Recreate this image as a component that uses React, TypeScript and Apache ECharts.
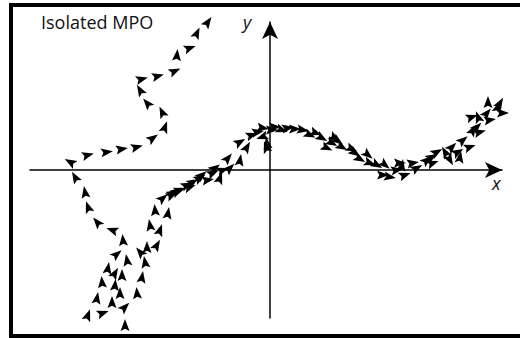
import React, { useEffect, useRef } from "react";
import * as echarts from "echarts";

// [x, y, heading in degrees (counter-clockwise from +x)]
const isolatedPath: number[][] = [
  [-14.7, -7.0, 95], [-15.8, -6.0, 160], [-17.3, -5.2, 130], [-18.2, -3.7, 110],
  [-18.5, -2.2, 100], [-19.5, -0.7, 120], [-20.0, 0.8, 150], [-18.2, 1.5, 15],
  [-16.3, 1.8, 8], [-14.8, 2.1, 10], [-13.3, 2.3, 15], [-11.7, 3.2, 35],
  [-10.5, 4.3, 70], [-10.8, 5.8, 115], [-12.3, 6.7, 130], [-13.0, 8.0, 120],
  [-12.8, 9.1, 15], [-11.2, 9.4, 15], [-9.5, 9.9, 25], [-9.3, 11.5, 85],
  [-8.0, 12.2, 20], [-7.3, 13.7, 65], [-6.2, 14.8, 55],
];

const swarmLower: number[][] = [
  [-15.3, -8.4, 40], [-14.3, -9.0, 100], [-16.2, -9.8, 80], [-15.5, -10.3, 60],
  [-14.8, -10.5, 90], [-16.8, -11.2, 95], [-15.5, -11.5, 85], [-15.0, -12.3, 90],
  [-17.3, -12.8, 80], [-15.8, -13.2, 90], [-18.2, -14.5, 70], [-16.7, -14.3, 20],
  [-14.5, -13.7, 45], [-14.5, -15.5, 90], [-13.3, -12.3, 95], [-12.8, -10.7, 80],
  [-12.5, -9.2, 100], [-13.0, -8.2, 130], [-12.3, -7.7, 90], [-11.3, -7.5, 60],
  [-12.0, -5.5, 100], [-11.0, -6.0, 70], [-11.5, -4.0, 95], [-10.2, -4.3, 80],
  [-10.7, -2.8, 40], [-9.7, -2.3, 30], [-9.0, -2.0, 20], [-8.3, -1.5, 25],
  [-7.0, -0.8, 30], [-5.7, -0.3, 25], [-7.7, -1.2, 30], [-8.0, -1.7, 20],
  [-9.3, -2.1, 35], [-9.8, -2.5, 25],
];

const swarmMiddle: number[][] = [
  [-6.8, -0.5, 40], [-6.2, -1.0, 10], [-5.0, -0.8, 70], [-5.5, 0.2, 35],
  [-4.7, 0.0, 20], [-4.0, 0.2, 45], [-4.2, 1.2, 50], [-3.0, 1.0, 80],
  [-3.0, 2.8, 30], [-2.3, 2.3, 60], [-1.8, 3.5, 20], [-1.2, 3.8, 10],
  [-0.3, 2.7, 100], [0.2, 4.0, 0], [-0.7, 4.2, -10], [-0.8, 3.3, 200],
  [-0.4, 2.3, 110], [0.5, 4.3, 0], [1.2, 4.0, -20], [1.8, 4.2, 10],
  [2.5, 4.1, 0], [3.3, 4.0, -10], [4.0, 3.5, -25], [4.6, 3.7, -20],
  [5.2, 3.2, -30], [6.2, 2.7, -30], [6.8, 2.9, -35], [7.2, 2.3, -30],
  [8.2, 2.1, -25], [8.5, 1.7, -35], [9.8, 1.5, -40], [9.0, 1.1, -30],
  [10.0, 0.7, -20], [10.7, 0.5, -30], [11.5, 0.5, -40], [11.3, -0.5, 0],
  [12.0, -0.7, -10], [6.5, 3.2, -30], [5.7, 2.2, -25],
];

const swarmUpper: number[][] = [
  [12.7, 0.0, 10], [13.2, 0.5, 80], [13.5, -0.5, 20], [14.7, 0.2, 30],
  [14.3, 0.7, 10], [13.0, 0.7, 0], [15.7, 1.0, 40], [16.3, 0.7, 20],
  [16.2, 1.3, 30], [16.7, 1.8, 30], [17.5, 1.8, 120], [18.0, 1.0, -60],
  [18.2, 2.3, 45], [18.8, 1.8, 30], [19.0, 1.3, 80], [19.3, 3.0, 40],
  [20.0, 2.3, 20], [20.3, 4.0, 60], [21.0, 3.8, 15], [20.7, 4.3, 45],
  [20.2, 5.3, 20], [20.8, 5.3, 110], [22.0, 5.0, 10], [21.7, 5.7, 50],
  [22.8, 6.3, 70], [23.3, 5.7, 0], [21.8, 6.8, 90], [23.0, 6.7, 60],
];

const ARROW = "path://M5,0 L10,13 L5,10.5 L0,13 Z";

export default function App() {
  const ref = useRef<HTMLDivElement>(null);
  useEffect(() => {
    if (!ref.current) return;
    const chart = echarts.init(ref.current, undefined, { renderer: "svg" });
    const all = [...isolatedPath, ...swarmLower, ...swarmMiddle, ...swarmUpper];
    const axisCommon = {
      type: "value" as const,
      axisTick: { show: false },
      axisLabel: { show: false },
      splitLine: { show: false },
      axisLine: {
        show: true,
        onZero: true,
        symbol: ["none", "arrow"],
        symbolSize: [12, 17],
        lineStyle: { color: "#000", width: 1.5 },
      },
    };
    chart.setOption({
      animation: false,
      backgroundColor: "#fff",
      grid: { left: 30, right: 18, top: 22, bottom: 20 },
      xAxis: { ...axisCommon, min: -24, max: 23.2 },
      yAxis: { ...axisCommon, min: -14.8, max: 14.8 },
      series: [
        {
          type: "scatter",
          clip: false,
          silent: true,
          symbol: ARROW,
          symbolSize: [9, 12],
          itemStyle: { color: "#000", opacity: 1 },
          data: all.map((d) => ({ value: [d[0], d[1]], symbolRotate: d[2] - 90 })),
        },
      ],
      graphic: [
        {
          type: "rect",
          z: 100,
          shape: { x: 11, y: 5, width: 520, height: 331 },
          style: { fill: "none", stroke: "#000", lineWidth: 4 },
        },
        {
          type: "text",
          left: 41,
          top: 13,
          style: {
            text: "Isolated MPO",
            font: "18px 'Open Sans'",
            fill: "#111",
          },
        },
        {
          type: "text",
          left: 243,
          top: 13,
          style: { text: "y", font: "italic 18px 'Open Sans'", fill: "#111" },
        },
        {
          type: "text",
          left: 492,
          top: 174,
          style: { text: "x", font: "italic 18px 'Open Sans'", fill: "#111" },
        },
      ],
    });
    return () => chart.dispose();
  }, []);
  return (
    <div
      ref={ref}
      style={{ position: "absolute", left: 0, top: 0, width: 520, height: 338 }}
    />
  );
}
